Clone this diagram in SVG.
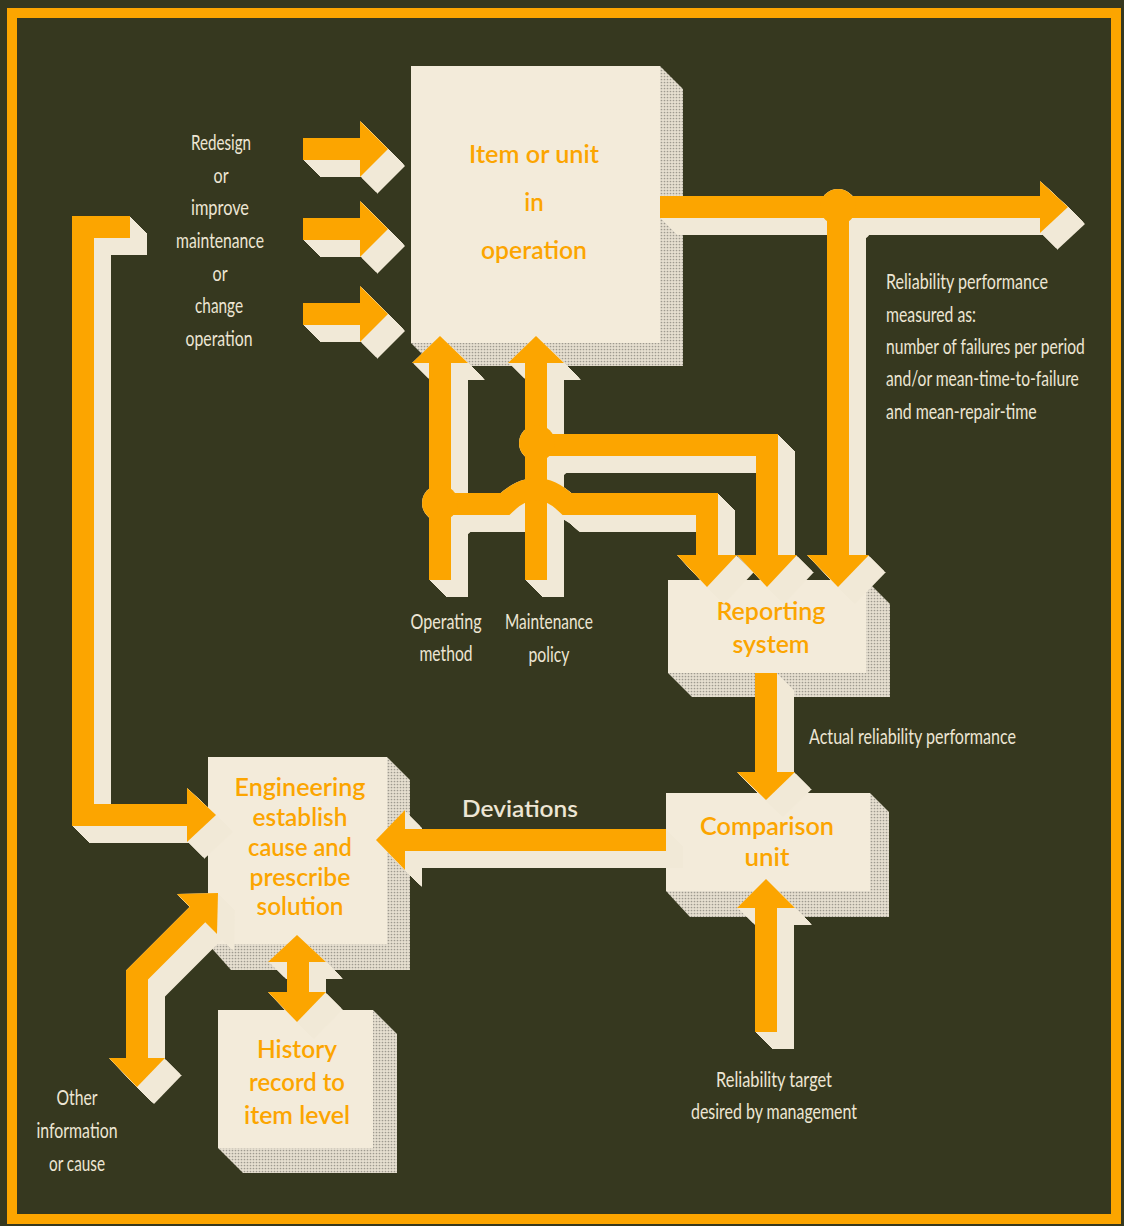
<svg xmlns="http://www.w3.org/2000/svg" width="1124" height="1226" viewBox="0 0 1124 1226">
<defs>
<style>
.bg{fill:#36381f}
.frame{fill:none;stroke:#fca500;stroke-width:10}
.face{fill:#f3ebda}
.shade{fill:url(#stip)}
.bt{font-family:Lato,"Open Sans","Liberation Sans",sans-serif;font-weight:600;font-size:24px;fill:#fca500;text-anchor:middle}
.lb{font-family:Lato,"Liberation Sans",sans-serif;font-size:22px;fill:#ede6d4;text-anchor:middle}
.ll{font-family:Lato,"Liberation Sans",sans-serif;font-size:22px;fill:#ede6d4;text-anchor:start}
.dv{font-family:Lato,"Liberation Sans",sans-serif;font-weight:600;font-size:23px;fill:#ede6d4;text-anchor:middle}
.ln{fill:none;stroke:#fca500;stroke-width:22;stroke-linejoin:miter;stroke-linecap:butt}
.hd{fill:#fca500}
</style>
<pattern id="stip" width="3" height="3" patternUnits="userSpaceOnUse">
<rect width="3" height="3" fill="#e6dfd0"/>
<circle cx="1.5" cy="1.5" r="0.85" fill="#9e9a8f"/>
</pattern>
<filter id="ext" filterUnits="userSpaceOnUse" x="0" y="0" width="1124" height="1226" color-interpolation-filters="sRGB">
<feOffset in="SourceAlpha" dx="1" dy="1" result="o1"/>
<feMerge result="a1"><feMergeNode in="SourceAlpha"/><feMergeNode in="o1"/></feMerge>
<feOffset in="a1" dx="2" dy="2" result="o2"/>
<feMerge result="a2"><feMergeNode in="a1"/><feMergeNode in="o2"/></feMerge>
<feOffset in="a2" dx="4" dy="4" result="o4"/>
<feMerge result="a4"><feMergeNode in="a2"/><feMergeNode in="o4"/></feMerge>
<feOffset in="a4" dx="8" dy="8" result="o8"/>
<feMerge result="a8"><feMergeNode in="a4"/><feMergeNode in="o8"/></feMerge>
<feOffset in="a8" dx="2" dy="2" result="o10"/>
<feMerge result="a10"><feMergeNode in="a8"/><feMergeNode in="o10"/></feMerge>
<feFlood flood-color="#f1e9d7"/>
<feComposite operator="in" in2="a10" result="cream"/>
<feMerge><feMergeNode in="cream"/><feMergeNode in="SourceGraphic"/></feMerge>
</filter>
</defs>

<rect class="bg" x="0" y="0" width="1124" height="1226"/>
<rect class="frame" x="12" y="13" width="1104" height="1206"/>

<g id="item">
<polygon class="shade" points="660,66 683,89 683,366 434,366 411,343"/>
<rect class="face" x="411" y="66" width="249" height="277"/>
<text class="bt" x="534" y="163" textLength="130" lengthAdjust="spacingAndGlyphs">Item or unit</text>
<text class="bt" x="534" y="211">in</text>
<text class="bt" x="534" y="259" textLength="106" lengthAdjust="spacingAndGlyphs">operation</text>
</g>

<g id="reporting">
<polygon class="shade" points="866,580 890,604 890,697 692,697 668,673"/>
<rect class="face" x="668" y="580" width="198" height="93"/>
<text class="bt" x="771" y="620" textLength="109" lengthAdjust="spacingAndGlyphs">Reporting</text>
<text class="bt" x="771" y="653" textLength="77" lengthAdjust="spacingAndGlyphs">system</text>
</g>

<g id="comparison">
<polygon class="shade" points="870,793 889,812 889,917 690,917 666,891"/>
<rect class="face" x="666" y="793" width="204" height="98"/>
<text class="bt" x="767" y="835" textLength="134" lengthAdjust="spacingAndGlyphs">Comparison</text>
<text class="bt" x="767" y="866" textLength="45" lengthAdjust="spacingAndGlyphs">unit</text>
</g>

<g id="engineering">
<polygon class="shade" points="387,757 410,780 410,970 231,970 208,944"/>
<rect class="face" x="208" y="757" width="179" height="187"/>
<text class="bt" x="300" y="796" textLength="131" lengthAdjust="spacingAndGlyphs">Engineering</text>
<text class="bt" x="300" y="826" textLength="95" lengthAdjust="spacingAndGlyphs">establish</text>
<text class="bt" x="300" y="856" textLength="104" lengthAdjust="spacingAndGlyphs">cause and</text>
<text class="bt" x="300" y="886" textLength="101" lengthAdjust="spacingAndGlyphs">prescribe</text>
<text class="bt" x="300" y="915" textLength="87" lengthAdjust="spacingAndGlyphs">solution</text>
</g>

<g id="history">
<polygon class="shade" points="373,1010 397,1034 397,1173 243,1173 218,1148"/>
<rect class="face" x="218" y="1010" width="155" height="138"/>
<text class="bt" x="297" y="1058" textLength="80" lengthAdjust="spacingAndGlyphs">History</text>
<text class="bt" x="297" y="1091" textLength="96" lengthAdjust="spacingAndGlyphs">record to</text>
<text class="bt" x="297" y="1124" textLength="106" lengthAdjust="spacingAndGlyphs">item level</text>
</g>

<g id="connectors" filter="url(#ext)">
<!-- inputs to item -->
<path class="ln" d="M303,149 H361"/>
<polygon class="hd" points="360,121 388,149 360,177"/>
<path class="ln" d="M303,229 H361"/>
<polygon class="hd" points="360,201 388,229 360,257"/>
<path class="ln" d="M303,314 H361"/>
<polygon class="hd" points="360,286 388,314 360,342"/>
<!-- item output -->
<path class="ln" d="M660,207 H1041"/>
<polygon class="hd" points="1040,181 1068,207 1040,233"/>
<circle class="hd" cx="838" cy="207" r="18"/>
<path class="ln" d="M838,207 V556"/>
<polygon class="hd" points="807,555 869,555 838,587"/>
<!-- operating method -->
<path class="ln" d="M440,580 V362"/>
<polygon class="hd" points="412,363 468,363 440,336"/>
<!-- maintenance policy -->
<path class="ln" d="M536,580 V362"/>
<polygon class="hd" points="508,363 564,363 536,336"/>
<!-- maintenance to reporting -->
<path class="ln" d="M536,445 H767 V556"/>
<circle class="hd" cx="537" cy="443" r="18"/>
<polygon class="hd" points="737,555 797,555 767,587"/>
<!-- operating to reporting -->
<path class="ln" d="M440,504 H505 Q536,474 567,504 H707 V556"/>
<circle class="hd" cx="440" cy="503" r="18"/>
<polygon class="hd" points="677,555 737,555 707,587"/>
<!-- reporting to comparison -->
<path class="ln" d="M766,673 V773"/>
<polygon class="hd" points="737,772 795,772 766,800"/>
<!-- target to comparison -->
<path class="ln" d="M766,1032 V907"/>
<polygon class="hd" points="737,908 795,908 766,879"/>
<!-- deviations -->
<path class="ln" d="M666,840 H404"/>
<polygon class="hd" points="405,810 405,870 376,840"/>
<!-- feedback loop -->
<path class="ln" d="M130,227 H83 V815 H188"/>
<polygon class="hd" points="187,788 216,815 187,842"/>
<!-- engineering / history -->
<path class="ln" d="M298,961 V993"/>
<polygon class="hd" points="268,962 326,962 297,935"/>
<polygon class="hd" points="268,992 326,992 297,1022"/>
<!-- other information -->
<path class="ln" d="M137,1059 V975 L198,914"/>
<polygon class="hd" points="218,893 217,934 177,894"/>
<polygon class="hd" points="109,1058 165,1058 137,1087"/>
</g>

<g id="labels">
<text class="lb" x="221" y="150" textLength="60" lengthAdjust="spacingAndGlyphs">Redesign</text>
<text class="lb" x="221" y="183" textLength="15" lengthAdjust="spacingAndGlyphs">or</text>
<text class="lb" x="220" y="215" textLength="58" lengthAdjust="spacingAndGlyphs">improve</text>
<text class="lb" x="220" y="248" textLength="88" lengthAdjust="spacingAndGlyphs">maintenance</text>
<text class="lb" x="220" y="281" textLength="15" lengthAdjust="spacingAndGlyphs">or</text>
<text class="lb" x="219" y="313" textLength="48" lengthAdjust="spacingAndGlyphs">change</text>
<text class="lb" x="219" y="346" textLength="67" lengthAdjust="spacingAndGlyphs">operation</text>

<text class="ll" transform="translate(886,289) scale(0.75,1)" textLength="216" lengthAdjust="spacingAndGlyphs">Reliability performance</text>
<text class="ll" transform="translate(886,322) scale(0.75,1)" textLength="120" lengthAdjust="spacingAndGlyphs">measured as:</text>
<text class="ll" transform="translate(886,354) scale(0.75,1)" textLength="265" lengthAdjust="spacingAndGlyphs">number of failures per period</text>
<text class="ll" transform="translate(886,386) scale(0.75,1)" textLength="257" lengthAdjust="spacingAndGlyphs">and/or mean-time-to-failure</text>
<text class="ll" transform="translate(886,419) scale(0.75,1)" textLength="201" lengthAdjust="spacingAndGlyphs">and mean-repair-time</text>

<text class="lb" x="446" y="629" textLength="71" lengthAdjust="spacingAndGlyphs">Operating</text>
<text class="lb" x="446" y="661" textLength="53" lengthAdjust="spacingAndGlyphs">method</text>
<text class="lb" x="549" y="629" textLength="88" lengthAdjust="spacingAndGlyphs">Maintenance</text>
<text class="lb" x="549" y="662" textLength="41" lengthAdjust="spacingAndGlyphs">policy</text>

<text class="ll" x="809" y="744" textLength="207" lengthAdjust="spacingAndGlyphs">Actual reliability performance</text>
<text class="dv" x="520" y="817" textLength="116" lengthAdjust="spacingAndGlyphs">Deviations</text>

<text class="lb" x="774" y="1087" textLength="116" lengthAdjust="spacingAndGlyphs">Reliability target</text>
<text class="lb" x="774" y="1119" textLength="166" lengthAdjust="spacingAndGlyphs">desired by management</text>

<text class="lb" x="77" y="1105" textLength="41" lengthAdjust="spacingAndGlyphs">Other</text>
<text class="lb" x="77" y="1138" textLength="81" lengthAdjust="spacingAndGlyphs">information</text>
<text class="lb" x="77" y="1171" textLength="56" lengthAdjust="spacingAndGlyphs">or cause</text>
</g>
</svg>
